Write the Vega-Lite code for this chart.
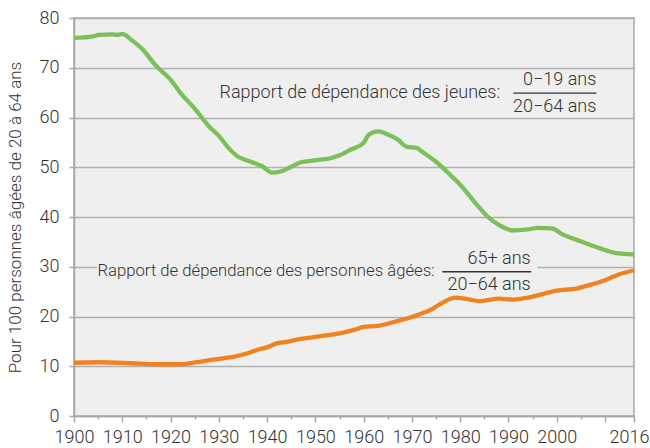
{
  "$schema": "https://vega.github.io/schema/vega-lite/v6.json",
  "width": 560,
  "height": 398,
  "autosize": "none",
  "padding": {"left": 74, "top": 18, "right": 16, "bottom": 32},
  "background": "white",
  "config": {
    "view": {"fill": "#efefef", "stroke": "#a8a8a8", "strokeWidth": 1.5},
    "font": "Roboto",
    "axis": {
      "labelFont": "Roboto", "labelFontSize": 18, "labelFontWeight": 300, "labelColor": "#333333",
      "titleFont": "Roboto", "titleFontSize": 17, "titleFontWeight": 300, "titleColor": "#333333",
      "domainColor": "#a8a8a8", "domainWidth": 1.5, "tickColor": "#a8a8a8", "tickWidth": 1.5,
      "gridColor": "#b0b0b0", "gridWidth": 1.3, "labelOverlap": false, "labelFlush": false
    }
  },
  "datasets": {
    "series": [
      {"year": 1900, "value": 76.0, "series": "jeunes"},
      {"year": 1902, "value": 76.1, "series": "jeunes"},
      {"year": 1904, "value": 76.3, "series": "jeunes"},
      {"year": 1905, "value": 76.6, "series": "jeunes"},
      {"year": 1908, "value": 76.7, "series": "jeunes"},
      {"year": 1909, "value": 76.6, "series": "jeunes"},
      {"year": 1910, "value": 76.8, "series": "jeunes"},
      {"year": 1912, "value": 75.5, "series": "jeunes"},
      {"year": 1914, "value": 73.9, "series": "jeunes"},
      {"year": 1917, "value": 70.4, "series": "jeunes"},
      {"year": 1920, "value": 67.6, "series": "jeunes"},
      {"year": 1922, "value": 65.0, "series": "jeunes"},
      {"year": 1925, "value": 61.8, "series": "jeunes"},
      {"year": 1928, "value": 58.2, "series": "jeunes"},
      {"year": 1930, "value": 56.3, "series": "jeunes"},
      {"year": 1932, "value": 53.9, "series": "jeunes"},
      {"year": 1934, "value": 52.1, "series": "jeunes"},
      {"year": 1936, "value": 51.3, "series": "jeunes"},
      {"year": 1939, "value": 50.2, "series": "jeunes"},
      {"year": 1941, "value": 48.9, "series": "jeunes"},
      {"year": 1943, "value": 49.2, "series": "jeunes"},
      {"year": 1945, "value": 50.1, "series": "jeunes"},
      {"year": 1947, "value": 51.0, "series": "jeunes"},
      {"year": 1950, "value": 51.4, "series": "jeunes"},
      {"year": 1953, "value": 51.8, "series": "jeunes"},
      {"year": 1955, "value": 52.4, "series": "jeunes"},
      {"year": 1957, "value": 53.4, "series": "jeunes"},
      {"year": 1960, "value": 54.9, "series": "jeunes"},
      {"year": 1961, "value": 56.5, "series": "jeunes"},
      {"year": 1963, "value": 57.2, "series": "jeunes"},
      {"year": 1965, "value": 56.6, "series": "jeunes"},
      {"year": 1967, "value": 55.6, "series": "jeunes"},
      {"year": 1969, "value": 54.1, "series": "jeunes"},
      {"year": 1971, "value": 53.9, "series": "jeunes"},
      {"year": 1972, "value": 53.2, "series": "jeunes"},
      {"year": 1975, "value": 51.1, "series": "jeunes"},
      {"year": 1978, "value": 48.4, "series": "jeunes"},
      {"year": 1980, "value": 46.5, "series": "jeunes"},
      {"year": 1983, "value": 43.0, "series": "jeunes"},
      {"year": 1986, "value": 39.8, "series": "jeunes"},
      {"year": 1988, "value": 38.4, "series": "jeunes"},
      {"year": 1991, "value": 37.3, "series": "jeunes"},
      {"year": 1994, "value": 37.5, "series": "jeunes"},
      {"year": 1996, "value": 37.8, "series": "jeunes"},
      {"year": 1999, "value": 37.7, "series": "jeunes"},
      {"year": 2001, "value": 36.6, "series": "jeunes"},
      {"year": 2005, "value": 35.1, "series": "jeunes"},
      {"year": 2009, "value": 33.7, "series": "jeunes"},
      {"year": 2012, "value": 32.8, "series": "jeunes"},
      {"year": 2016, "value": 32.5, "series": "jeunes"},
      {"year": 1900, "value": 10.7, "series": "agees"},
      {"year": 1905, "value": 10.8, "series": "agees"},
      {"year": 1912, "value": 10.6, "series": "agees"},
      {"year": 1917, "value": 10.4, "series": "agees"},
      {"year": 1922, "value": 10.4, "series": "agees"},
      {"year": 1926, "value": 10.9, "series": "agees"},
      {"year": 1930, "value": 11.5, "series": "agees"},
      {"year": 1933, "value": 11.9, "series": "agees"},
      {"year": 1936, "value": 12.6, "series": "agees"},
      {"year": 1938, "value": 13.3, "series": "agees"},
      {"year": 1940, "value": 13.8, "series": "agees"},
      {"year": 1942, "value": 14.6, "series": "agees"},
      {"year": 1944, "value": 14.9, "series": "agees"},
      {"year": 1947, "value": 15.5, "series": "agees"},
      {"year": 1950, "value": 15.9, "series": "agees"},
      {"year": 1953, "value": 16.3, "series": "agees"},
      {"year": 1955, "value": 16.6, "series": "agees"},
      {"year": 1958, "value": 17.3, "series": "agees"},
      {"year": 1960, "value": 17.9, "series": "agees"},
      {"year": 1963, "value": 18.1, "series": "agees"},
      {"year": 1967, "value": 19.1, "series": "agees"},
      {"year": 1969, "value": 19.6, "series": "agees"},
      {"year": 1972, "value": 20.6, "series": "agees"},
      {"year": 1974, "value": 21.4, "series": "agees"},
      {"year": 1976, "value": 22.6, "series": "agees"},
      {"year": 1979, "value": 23.8, "series": "agees"},
      {"year": 1981, "value": 23.6, "series": "agees"},
      {"year": 1984, "value": 23.1, "series": "agees"},
      {"year": 1988, "value": 23.6, "series": "agees"},
      {"year": 1991, "value": 23.4, "series": "agees"},
      {"year": 1994, "value": 23.8, "series": "agees"},
      {"year": 1997, "value": 24.5, "series": "agees"},
      {"year": 2000, "value": 25.2, "series": "agees"},
      {"year": 2004, "value": 25.6, "series": "agees"},
      {"year": 2007, "value": 26.4, "series": "agees"},
      {"year": 2010, "value": 27.3, "series": "agees"},
      {"year": 2013, "value": 28.5, "series": "agees"},
      {"year": 2016, "value": 29.3, "series": "agees"}
    ],
    "labels": [
      {"x": 1988.3, "y": 65.0, "text": "Rapport de dépendance des jeunes:"},
      {"x": 2008.2, "y": 67.5, "text": "0−19 ans"},
      {"x": 2008.2, "y": 62.2, "text": "20−64 ans"},
      {"x": 1994.6, "y": 31.5, "text": "65+ ans"},
      {"x": 1994.6, "y": 26.3, "text": "20−64 ans"}
    ],
    "labelsSmall": [
      {"x": 1974.7, "y": 29.1, "text": "Rapport de dépendance des personnes âgées:"}
    ],
    "bars": [
      {"x": 1991.0, "x2": 2008.2, "y": 64.9},
      {"x": 1976.3, "x2": 1994.7, "y": 29.0}
    ],
    "cover": [
      {"x": 1904.7, "x2": 1996.0, "y": 29.6, "y2": 30.4}
    ]
  },
  "layer": [
    {
      "data": {"name": "cover"},
      "mark": {"type": "rect", "fill": "#efefef"},
      "encoding": {
        "x": {"field": "x", "type": "quantitative", "scale": {"domain": [1900, 2016], "nice": false, "zero": false},
              "axis": {"values": [1900, 1905, 1910, 1915, 1920, 1925, 1930, 1935, 1940, 1945, 1950, 1955, 1960, 1965, 1970, 1975, 1980, 1985, 1990, 1995, 2000, 2005, 2010, 2016],
                       "tickCount": 200,
                       "labelExpr": "(datum.value % 10 == 0 && datum.value != 2010) || datum.value == 2016 ? format(datum.value, 'd') : ''",
                       "tickSize": {"condition": {"test": "datum.value % 10 == 0 || datum.value == 2016", "value": 6}, "value": 3},
                       "labelAlign": {"condition": {"test": "datum.value == 2016", "value": "right"}, "value": "center"},
                       "labelOffset": {"condition": {"test": "datum.value == 2016", "value": 15}, "value": 0},
                       "title": null, "grid": false, "labelPadding": 6}},
        "x2": {"field": "x2"},
        "y": {"field": "y", "type": "quantitative", "scale": {"domain": [0, 80], "nice": false},
              "axis": {"values": [0, 10, 20, 30, 40, 50, 60, 70, 80], "title": "Pour 100 personnes âgées de 20 à 64 ans",
                       "tickCount": 20, "tickSize": 5, "labelPadding": 10, "titlePadding": 15, "grid": true}},
        "y2": {"field": "y2"}
      }
    },
    {
      "data": {"name": "series"},
      "mark": {"type": "line", "strokeWidth": 4.3, "interpolate": "monotone"},
      "encoding": {
        "x": {"field": "year", "type": "quantitative"},
        "y": {"field": "value", "type": "quantitative"},
        "color": {"field": "series", "type": "nominal",
                  "scale": {"domain": ["jeunes", "agees"], "range": ["#7cc05a", "#f28220"]}, "legend": null}
      }
    },
    {
      "data": {"name": "bars"},
      "mark": {"type": "rule", "color": "#333333", "strokeWidth": 1.3},
      "encoding": {
        "x": {"field": "x", "type": "quantitative"},
        "x2": {"field": "x2"},
        "y": {"field": "y", "type": "quantitative"}
      }
    },
    {
      "data": {"name": "labels"},
      "mark": {"type": "text", "align": "right", "baseline": "middle", "font": "Roboto", "fontSize": 18, "fontWeight": 300, "color": "#333333"},
      "encoding": {
        "x": {"field": "x", "type": "quantitative"},
        "y": {"field": "y", "type": "quantitative"},
        "text": {"field": "text"}
      }
    },
    {
      "data": {"name": "labelsSmall"},
      "mark": {"type": "text", "align": "right", "baseline": "middle", "font": "Roboto", "fontSize": 16.7, "fontWeight": 300, "color": "#333333"},
      "encoding": {
        "x": {"field": "x", "type": "quantitative"},
        "y": {"field": "y", "type": "quantitative"},
        "text": {"field": "text"}
      }
    }
  ]
}
